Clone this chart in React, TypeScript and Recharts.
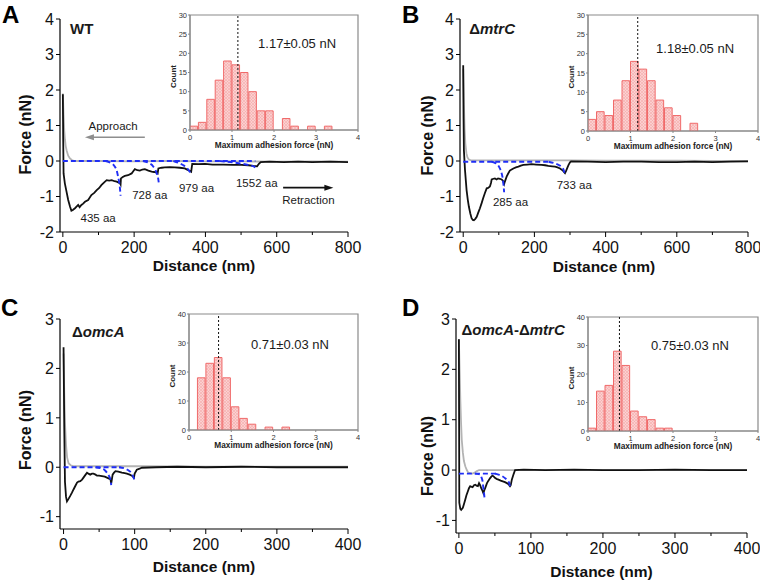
import React from 'react';
import {
  ComposedChart,
  Line,
  Bar,
  XAxis,
  YAxis,
  ReferenceLine,
  ReferenceDot,
  ReferenceArea,
} from 'recharts';

const FONT = '"Liberation Sans", Arial, Helvetica, sans-serif';

type P = [number, number];

// ---------- force curves (distance nm, force nN) ----------
const wtRetraction: P[] = [[0, 1.88], [1, 0.6], [2, -0.35], [5.6, -0.63], [10, -0.85], [15, -1.1], [20, -1.28], [24, -1.4], [28, -1.38], [34, -1.33], [39, -1.28], [43, -1.24], [47, -1.3], [52, -1.24], [57, -1.2], [62, -1.15], [71, -1.1], [80, -0.96], [88, -0.9], [95, -0.82], [102, -0.76], [108, -0.68], [116, -0.6], [123, -0.54], [130, -0.55], [137, -0.54], [145, -0.57], [151, -0.58], [157, -0.61], [160, -0.62], [162, -0.66], [163, -0.49], [168, -0.45], [174, -0.42], [183, -0.4], [193, -0.35], [198, -0.28], [202, -0.23], [209, -0.26], [216, -0.27], [223, -0.24], [230, -0.23], [240, -0.27], [249, -0.3], [256, -0.31], [263, -0.33], [266, -0.35], [268, -0.21], [277, -0.19], [286, -0.18], [300, -0.17], [314, -0.18], [328, -0.19], [342, -0.21], [350, -0.25], [357, -0.28], [360, -0.3], [363, -0.08], [380, -0.09], [399, -0.08], [420, -0.1], [450, -0.1], [478, -0.11], [500, -0.11], [520, -0.12], [535, -0.14], [545, -0.15], [550, -0.08], [555, -0.03], [580, -0.02], [620, -0.03], [660, -0.02], [700, -0.03], [750, -0.02], [800, -0.03]];
const wtApproach: P[] = [[0, 1.9], [2, 1.3], [4, 0.85], [6, 0.6], [8, 0.42], [11, 0.28], [15, 0.15], [20, 0.07], [26, 0.02], [34, 0], [100, 0], [200, -0.01], [300, 0], [400, -0.01], [500, -0.01], [600, -0.02], [700, -0.01], [800, -0.02]];
const wtBaseline: P[] = [[0, 0], [540, 0]];
const wtFits: P[][] = [
  [[120, 0], [135, -0.06], [146, -0.16], [152, -0.3], [155, -0.44], [158, -0.6], [160, -0.75], [162, -0.98]],
  [[225, 0], [240, -0.05], [254, -0.16], [260, -0.26], [264, -0.37], [267, -0.47], [269, -0.6]],
  [[310, 0], [324, -0.05], [340, -0.13], [347, -0.18], [353, -0.26], [357, -0.33], [359, -0.4]],
  [[440, 0], [470, -0.03], [497, -0.07], [520, -0.11], [532, -0.14], [540, -0.18]],
];

const mtrCRetraction: P[] = [[0, 2.7], [1, 1.2], [2, 0.3], [5, -0.25], [9.5, -0.82], [13, -1.1], [16, -1.29], [20, -1.48], [23.5, -1.61], [27, -1.66], [30, -1.67], [34, -1.63], [38, -1.57], [42, -1.46], [47, -1.33], [52, -1.18], [56, -1.05], [61, -0.9], [66, -0.77], [70, -0.76], [75, -0.72], [78, -0.62], [80, -0.52], [85, -0.5], [89, -0.49], [94, -0.52], [98, -0.49], [103, -0.5], [108, -0.52], [112, -0.56], [115, -0.65], [117, -0.58], [122, -0.44], [126, -0.36], [131, -0.27], [136, -0.24], [141, -0.21], [148, -0.18], [155, -0.16], [162, -0.13], [169, -0.11], [180, -0.1], [192, -0.09], [205, -0.1], [220, -0.11], [230, -0.12], [239, -0.14], [250, -0.15], [258, -0.16], [265, -0.18], [272, -0.21], [280, -0.27], [286, -0.34], [289, -0.28], [293, -0.18], [296, -0.11], [300, -0.04], [303, -0.01], [350, -0.02], [400, -0.03], [450, -0.02], [500, -0.02], [550, -0.03], [600, -0.03], [650, -0.02], [700, -0.03], [750, -0.02], [800, -0.01]];
const mtrCApproach: P[] = [[0, 2.6], [2, 1.6], [4, 0.9], [6, 0.5], [9, 0.22], [12, 0.1], [16, 0.04], [22, 0.02], [100, 0.02], [200, 0.02], [300, 0.02], [400, 0.01], [500, 0.01], [600, 0.01], [700, 0], [800, 0]];
const mtrCBaseline: P[] = [[0, -0.02], [245, -0.02]];
const mtrCFits: P[][] = [
  [[80, -0.02], [89, -0.05], [97, -0.1], [103, -0.21], [108, -0.35], [111, -0.49], [113, -0.65], [115, -0.88]],
  [[240, -0.02], [258, -0.07], [270, -0.12], [277, -0.17], [282, -0.25], [286, -0.4]],
];

const omcARetraction: P[] = [[0, 2.43], [1, 0.8], [2, -0.3], [3.5, -0.6], [4.8, -0.69], [7, -0.64], [9.4, -0.58], [12, -0.51], [14, -0.45], [16.5, -0.38], [19, -0.31], [21, -0.29], [23.5, -0.28], [26, -0.25], [28, -0.21], [30.5, -0.16], [33, -0.11], [35, -0.13], [37.5, -0.15], [40, -0.13], [42, -0.13], [45, -0.15], [47, -0.17], [50, -0.17], [54, -0.18], [58, -0.19], [61, -0.21], [64, -0.23], [66, -0.25], [67, -0.33], [69, -0.15], [71, -0.11], [73, -0.08], [77, -0.09], [82, -0.11], [86, -0.12], [89, -0.13], [93, -0.15], [96, -0.17], [99, -0.21], [100, -0.13], [103, -0.05], [107, -0.03], [110, -0.01], [130, 0], [160, 0.01], [200, 0], [250, 0.01], [300, 0], [350, 0], [400, 0]];
const omcAApproach: P[] = [[0, 2.3], [1, 1.5], [2, 0.9], [3.5, 0.45], [5, 0.2], [7, 0.08], [10, 0.04], [15, 0.02], [60, 0.02], [110, 0.02], [200, 0.01], [300, 0.01], [400, 0.01]];
const omcABaseline: P[] = [[0, 0], [80, 0]];
const omcAFits: P[][] = [
  [[45, 0], [54, -0.03], [58, -0.06], [61, -0.11], [64, -0.18], [66, -0.25], [67, -0.36]],
  [[78, 0], [87, -0.03], [92, -0.07], [95, -0.11], [97, -0.16], [99, -0.23], [100, -0.28]],
];

const doubleRetraction: P[] = [[0, 2.6], [0.3, 1.0], [0.6, -0.65], [2, -0.77], [3.2, -0.79], [5.5, -0.75], [7, -0.68], [8.8, -0.59], [10.5, -0.5], [12.5, -0.42], [14, -0.36], [15.7, -0.32], [17, -0.33], [19, -0.34], [21, -0.3], [22.7, -0.29], [24.5, -0.31], [26.4, -0.32], [28, -0.26], [29.5, -0.3], [31, -0.36], [33, -0.42], [34, -0.46], [35.3, -0.4], [36.5, -0.36], [38, -0.3], [39, -0.26], [41, -0.21], [43.4, -0.16], [45, -0.13], [46.7, -0.11], [48.5, -0.13], [50.4, -0.16], [53, -0.18], [55, -0.19], [58, -0.21], [62, -0.23], [64, -0.24], [66.6, -0.26], [69, -0.28], [71, -0.32], [72, -0.3], [73.5, -0.19], [76, -0.08], [78, 0], [90, 0.01], [120, 0], [160, 0.01], [200, 0], [250, 0], [300, 0.01], [350, 0], [400, 0]];
const doubleApproach: P[] = [[0, 2.6], [1, 2.0], [2, 1.4], [3, 0.95], [4, 0.6], [5.5, 0.35], [7, 0.18], [9, 0.07], [11, 0], [13, -0.05], [16, -0.06], [19, -0.07], [22, -0.05], [25, -0.02], [28, 0], [50, 0], [100, 0], [200, 0], [300, 0], [400, 0]];
const doubleBaseline: P[] = [[0, -0.07], [55, -0.07]];
const doubleFits: P[][] = [
  [[22, -0.07], [29.6, -0.09], [31.5, -0.15], [33, -0.23], [34, -0.36], [35, -0.47], [35.6, -0.56]],
  [[50, -0.07], [55, -0.09], [60, -0.12], [64, -0.16], [67, -0.2], [70, -0.26], [71, -0.35]],
];

// ---------- ticks ----------
const xTicksLong = [0, 100, 200, 300, 400, 500, 600, 700, 800];
const xTicksShort = [0, 50, 100, 150, 200, 250, 300, 350, 400];
const yTicksTall = [-2, -1, 0, 1, 2, 3, 4];
const yTicksShort = [-1, 0, 1, 2, 3];

// ---------- histograms (bin centres, counts) ----------
const binCentres = [0.1, 0.3, 0.5, 0.7, 0.9, 1.1, 1.3, 1.5, 1.7, 1.9, 2.1, 2.3, 2.5, 2.7, 2.9, 3.1, 3.3, 3.5, 3.7, 3.9];
const wtCounts = [1, 2, 8, 13, 18, 17, 15, 10, 5, 5, 0, 3, 1, 0, 1, 0, 1, 0, 0, 0];
const mtrCCounts = [3, 5, 4, 8, 13, 18, 16, 13, 8, 6, 4, 0, 2, 0, 0, 0, 0, 0, 0, 0];
const omcACounts = [0, 18, 23, 25, 18, 8, 4, 2, 0, 1, 0, 1, 0, 0, 0, 0, 0, 0, 0, 0];
const doubleCounts = [1, 14, 16, 28, 23, 7, 5, 4, 1, 1, 0, 0, 0, 0, 0, 0, 0, 0, 0, 0];
const insetXTicks = [0, 1, 2, 3, 4];
const countTicks30 = [0, 5, 10, 15, 20, 25, 30];
const countTicks40 = [0, 10, 20, 30, 40];

const toPts = (arr: P[]) => arr.map(([x, y]) => ({ x, y }));

type Part = { t: string; i?: boolean };
interface Note { x: number; y: number; parts: Part[]; size: number; bold?: boolean; anchor?: 'start' | 'middle' }
interface Arrow { from: P; to: P; color: string }

const MainXTick = (p: any) => {
  const { x, y, payload, every } = p;
  const v = payload.value;
  const major = v % every === 0;
  return (
    <g>
      <line x1={x} y1={y} x2={x} y2={y + (major ? 5 : 3)} stroke="#000" strokeWidth={1} />
      {major && (
        <text x={x} y={y + 21} textAnchor="middle" fontSize={16} fontFamily={FONT} fill="#111">
          {v}
        </text>
      )}
    </g>
  );
};

const MainYTick = (p: any) => {
  const { x, y, payload } = p;
  return (
    <g>
      <line x1={x} y1={y} x2={x - 4} y2={y} stroke="#000" strokeWidth={1} />
      <text x={x - 6} y={y} dy="0.36em" textAnchor="end" fontSize={16} fontFamily={FONT} fill="#111">
        {payload.value}
      </text>
    </g>
  );
};

const InsetXTick = (p: any) => {
  const { x, y, payload } = p;
  return (
    <g>
      <line x1={x} y1={y} x2={x} y2={y + 2} stroke="#888" />
      <text x={x} y={y + 9.5} textAnchor="middle" fontSize={7.5} fontFamily={FONT} fill="#333">
        {payload.value}
      </text>
    </g>
  );
};

const InsetYTick = (p: any) => {
  const { x, y, payload } = p;
  return (
    <g>
      <line x1={x} y1={y} x2={x - 2} y2={y} stroke="#888" />
      <text x={x - 3} y={y} dy="0.36em" textAnchor="end" fontSize={7.5} fontFamily={FONT} fill="#333">
        {payload.value}
      </text>
    </g>
  );
};

const arrowShape = (color: string) => (p: any) => {
  const { x1, y1, x2, y2 } = p;
  const dir = Math.sign(x2 - x1) || 1;
  return (
    <g>
      <line x1={x1} y1={y1} x2={x2 - dir * 6} y2={y2} stroke={color} strokeWidth={1.6} />
      <polygon points={`${x2},${y2} ${x2 - dir * 9},${y2 - 3} ${x2 - dir * 9},${y2 + 3}`} fill={color} />
    </g>
  );
};

const noteShape = (n: Note) => (p: any) => (
  <text
    x={p.cx}
    y={p.cy}
    dy="0.36em"
    textAnchor={n.anchor || 'middle'}
    fontSize={n.size}
    fontFamily={FONT}
    fontWeight={n.bold ? 'bold' : 'normal'}
    fill="#1a1a1a"
  >
    {n.parts.map((s, i) => (
      <tspan key={i} fontStyle={s.i ? 'italic' : 'normal'}>
        {s.t}
      </tspan>
    ))}
  </text>
);

interface ForceProps {
  left: number;
  top: number;
  width: number;
  height: number;
  margin: { top: number; right: number; left: number; bottom: number };
  xAxisH: number;
  xDomain: [number, number];
  xTicks: number[];
  every: number;
  yDomain: [number, number];
  yTicks: number[];
  approach: P[];
  retraction: P[];
  baseline: P[];
  fits: P[][];
  notes: Note[];
  arrows: Arrow[];
  xTitleDy: number;
  yTitleOff: number;
  yTitleShift: number;
}

const BLUE = '#1f2ef5';

function ForcePanel(f: ForceProps) {
  return (
    <div style={{ position: 'absolute', left: f.left, top: f.top }}>
      <ComposedChart width={f.width} height={f.height} margin={f.margin}>
        <XAxis
          type="number"
          dataKey="x"
          domain={f.xDomain}
          ticks={f.xTicks}
          interval={0}
          allowDataOverflow
          height={f.xAxisH}
          tickSize={0}
          tickMargin={0}
          tickLine={false}
          axisLine={{ stroke: '#000', strokeWidth: 1.2 }}
          tick={<MainXTick every={f.every} />}
          label={(p: any) => {
            const vb = p.viewBox;
            return (
              <text
                x={vb.x + vb.width / 2}
                y={vb.y + f.xTitleDy}
                textAnchor="middle"
                fontSize={15.5}
                fontWeight="bold"
                fontFamily={FONT}
                fill="#111"
              >
                Distance (nm)
              </text>
            );
          }}
        />
        <YAxis
          type="number"
          dataKey="y"
          domain={f.yDomain}
          ticks={f.yTicks}
          interval={0}
          allowDataOverflow
          width={40}
          tickSize={0}
          tickMargin={0}
          tickLine={false}
          axisLine={{ stroke: '#000', strokeWidth: 1.2 }}
          tick={<MainYTick />}
          label={(p: any) => {
            const vb = p.viewBox;
            const cx = vb.x + vb.width - f.yTitleOff;
            const cy = vb.y + vb.height / 2 + f.yTitleShift;
            return (
              <text
                x={cx}
                y={cy}
                dy="0.36em"
                transform={`rotate(-90 ${cx} ${cy})`}
                textAnchor="middle"
                fontSize={16}
                fontWeight="bold"
                fontFamily={FONT}
                fill="#111"
              >
                Force (nN)
              </text>
            );
          }}
        />
        <Line data={toPts(f.approach)} dataKey="y" type="linear" stroke="#b3b3b3" strokeWidth={1.8} dot={false} isAnimationActive={false} />
        <Line data={toPts(f.retraction)} dataKey="y" type="linear" stroke="#111" strokeWidth={1.8} dot={false} isAnimationActive={false} />
        <Line data={toPts(f.baseline)} dataKey="y" type="linear" stroke={BLUE} strokeWidth={1.9} strokeDasharray="5 3" dot={false} isAnimationActive={false} />
        {f.fits.map((fit, i) => (
          <Line
            key={i}
            data={toPts(fit)}
            dataKey="y"
            type="monotone"
            stroke={BLUE}
            strokeWidth={1.9}
            strokeDasharray="5 3"
            dot={false}
            isAnimationActive={false}
          />
        ))}
        {f.arrows.map((a, i) => (
          <ReferenceLine
            key={'a' + i}
            segment={[{ x: a.from[0], y: a.from[1] }, { x: a.to[0], y: a.to[1] }]}
            shape={arrowShape(a.color)}
          />
        ))}
        {f.notes.map((n, i) => (
          <ReferenceDot key={'n' + i} x={n.x} y={n.y} r={1} shape={noteShape(n)} />
        ))}
      </ComposedChart>
    </div>
  );
}

interface HistProps {
  left: number;
  top: number;
  width: number;
  height: number;
  margin: { top: number; right: number; left: number; bottom: number };
  counts: number[];
  yMax: number;
  yTicks: number[];
  mean: number;
  label: string;
  labelAt: P;
  barSize: number;
  id: string;
}

function Histogram(h: HistProps) {
  const data = binCentres.map((x, i) => ({ x, count: h.counts[i] }));
  return (
    <div style={{ position: 'absolute', left: h.left, top: h.top }}>
      <ComposedChart width={h.width} height={h.height} margin={h.margin} data={data} barCategoryGap={0} barGap={0}>
        <defs>
          <pattern id={h.id} width="3" height="3" patternUnits="userSpaceOnUse">
            <rect width="3" height="3" fill="#fbd0d0" />
            <path d="M0,0 L3,3 M3,0 L0,3" stroke="#f3a5a5" strokeWidth="0.5" />
          </pattern>
        </defs>
        <XAxis
          type="number"
          dataKey="x"
          domain={[0, 4]}
          ticks={insetXTicks}
          interval={0}
          allowDataOverflow
          height={25}
          tickSize={0}
          tickMargin={0}
          tickLine={false}
          axisLine={{ stroke: '#888' }}
          tick={<InsetXTick />}
          label={(p: any) => {
            const vb = p.viewBox;
            return (
              <text x={vb.x + vb.width / 2} y={vb.y + 18} textAnchor="middle" fontSize={8.3} fontWeight="bold" fontFamily={FONT} fill="#222">
                Maximum adhesion force (nN)
              </text>
            );
          }}
        />
        <YAxis
          type="number"
          domain={[0, h.yMax]}
          ticks={h.yTicks}
          interval={0}
          allowDataOverflow
          width={20}
          tickSize={0}
          tickMargin={0}
          tickLine={false}
          axisLine={{ stroke: '#888' }}
          tick={<InsetYTick />}
          label={(p: any) => {
            const vb = p.viewBox;
            const cx = vb.x + vb.width - 17;
            const cy = vb.y + vb.height / 2 + 4;
            return (
              <text x={cx} y={cy} dy="0.36em" transform={`rotate(-90 ${cx} ${cy})`} textAnchor="middle" fontSize={8} fontWeight="bold" fontFamily={FONT} fill="#222">
                Count
              </text>
            );
          }}
        />
        <Bar dataKey="count" barSize={h.barSize} fill={`url(#${h.id})`} stroke="#f06a6a" strokeWidth={1} isAnimationActive={false} />
        <ReferenceArea x1={0} x2={4} y1={0} y2={h.yMax} fill="none" stroke="#8a8a8a" strokeWidth={1.2} />
        <ReferenceLine x={h.mean} stroke="#111" strokeDasharray="2 2" strokeWidth={1} />
        <ReferenceDot
          x={h.labelAt[0]}
          y={h.labelAt[1]}
          r={1}
          shape={noteShape({ x: 0, y: 0, parts: [{ t: h.label }], size: 13 })}
        />
      </ComposedChart>
    </div>
  );
}

export default function App() {
  return (
    <div style={{ position: 'absolute', left: 0, top: 0, width: 760, height: 580, background: '#fff', overflow: 'hidden' }}>
      <svg width={760} height={580} style={{ position: 'absolute', left: 0, top: 0 }}>
        <text x={2} y={23} fontSize={24} fontWeight="bold" fontFamily={FONT} fill="#000">A</text>
        <text x={402} y={23} fontSize={24} fontWeight="bold" fontFamily={FONT} fill="#000">B</text>
        <text x={1} y={316} fontSize={24} fontWeight="bold" fontFamily={FONT} fill="#000">C</text>
        <text x={402} y={316} fontSize={24} fontWeight="bold" fontFamily={FONT} fill="#000">D</text>
      </svg>

      <ForcePanel
        left={0}
        top={0}
        width={380}
        height={290}
        margin={{ top: 19, right: 32, left: 20, bottom: 8 }}
        xAxisH={50}
        xDomain={[-8, 800]}
        xTicks={xTicksLong}
        every={200}
        yDomain={[-2, 4]}
        yTicks={yTicksTall}
        approach={wtApproach}
        retraction={wtRetraction}
        baseline={wtBaseline}
        fits={wtFits}
        xTitleDy={39}
        yTitleOff={35}
        yTitleShift={9}
        notes={[
          { x: 20, y: 3.72, parts: [{ t: 'WT' }], size: 15, bold: true, anchor: 'start' },
          { x: 99, y: -1.61, parts: [{ t: '435 aa' }], size: 11.5 },
          { x: 244, y: -0.96, parts: [{ t: '728 aa' }], size: 11.5 },
          { x: 375, y: -0.77, parts: [{ t: '979 aa' }], size: 11.5 },
          { x: 544, y: -0.61, parts: [{ t: '1552 aa' }], size: 11.5 },
          { x: 141, y: 0.99, parts: [{ t: 'Approach' }], size: 11.5 },
          { x: 689, y: -1.1, parts: [{ t: 'Retraction' }], size: 11.5 },
        ]}
        arrows={[
          { from: [230, 0.67], to: [62, 0.67], color: '#8e8e8e' },
          { from: [618, -0.75], to: [759, -0.75], color: '#111' },
        ]}
      />
      <ForcePanel
        left={380}
        top={0}
        width={380}
        height={290}
        margin={{ top: 19, right: 12, left: 40, bottom: 8 }}
        xAxisH={50}
        xDomain={[-9, 800]}
        xTicks={xTicksLong}
        every={200}
        yDomain={[-2, 4]}
        yTicks={yTicksTall}
        approach={mtrCApproach}
        retraction={mtrCRetraction}
        baseline={mtrCBaseline}
        fits={mtrCFits}
        xTitleDy={40}
        yTitleOff={33}
        yTitleShift={10}
        notes={[
          { x: 17, y: 3.74, parts: [{ t: 'Δ' }, { t: 'mtrC', i: true }], size: 15, bold: true, anchor: 'start' },
          { x: 133, y: -1.15, parts: [{ t: '285 aa' }], size: 11.5 },
          { x: 312, y: -0.66, parts: [{ t: '733 aa' }], size: 11.5 },
        ]}
        arrows={[]}
      />
      <ForcePanel
        left={0}
        top={290}
        width={380}
        height={290}
        margin={{ top: 29, right: 32, left: 20, bottom: 3 }}
        xAxisH={48}
        xDomain={[-5, 400]}
        xTicks={xTicksShort}
        every={100}
        yDomain={[-1.25, 3]}
        yTicks={yTicksShort}
        approach={omcAApproach}
        retraction={omcARetraction}
        baseline={omcABaseline}
        fits={omcAFits}
        xTitleDy={43}
        yTitleOff={35}
        yTitleShift={6}
        notes={[{ x: 12, y: 2.74, parts: [{ t: 'Δ' }, { t: 'omcA', i: true }], size: 15, bold: true, anchor: 'start' }]}
        arrows={[]}
      />
      <ForcePanel
        left={380}
        top={290}
        width={380}
        height={290}
        margin={{ top: 29, right: 13, left: 36, bottom: 2 }}
        xAxisH={45}
        xDomain={[-4, 400]}
        xTicks={xTicksShort}
        every={100}
        yDomain={[-1.25, 3]}
        yTicks={yTicksShort}
        approach={doubleApproach}
        retraction={doubleRetraction}
        baseline={doubleBaseline}
        fits={doubleFits}
        xTitleDy={44}
        yTitleOff={29}
        yTitleShift={30}
        notes={[
          {
            x: 3.7,
            y: 2.78,
            parts: [{ t: 'Δ' }, { t: 'omcA', i: true }, { t: '-Δ' }, { t: 'mtrC', i: true }],
            size: 15,
            bold: true,
            anchor: 'start',
          },
        ]}
        arrows={[]}
      />

      <Histogram
        id="hatchA"
        left={160}
        top={5}
        width={200}
        height={160}
        margin={{ top: 10, right: 2, left: 10, bottom: 10 }}
        counts={wtCounts}
        yMax={30}
        yTicks={countTicks30}
        mean={1.14}
        label="1.17±0.05 nN"
        labelAt={[2.55, 22.7]}
        barSize={8.4}
      />
      <Histogram
        id="hatchB"
        left={558}
        top={5}
        width={202}
        height={160}
        margin={{ top: 10, right: 2, left: 10, bottom: 9 }}
        counts={mtrCCounts}
        yMax={30}
        yTicks={countTicks30}
        mean={1.17}
        label="1.18±0.05 nN"
        labelAt={[2.52, 21.5]}
        barSize={8.5}
      />
      <Histogram
        id="hatchC"
        left={159}
        top={300}
        width={201}
        height={160}
        margin={{ top: 14, right: 2, left: 10, bottom: 5 }}
        counts={omcACounts}
        yMax={40}
        yTicks={countTicks40}
        mean={0.7}
        label="0.71±0.03 nN"
        labelAt={[2.39, 29.7]}
        barSize={8.45}
      />
      <Histogram
        id="hatchD"
        left={558}
        top={300}
        width={202}
        height={160}
        margin={{ top: 17, right: 2, left: 10, bottom: 4 }}
        counts={doubleCounts}
        yMax={40}
        yTicks={countTicks40}
        mean={0.74}
        label="0.75±0.03 nN"
        labelAt={[2.4, 30.2]}
        barSize={8.5}
      />
    </div>
  );
}
